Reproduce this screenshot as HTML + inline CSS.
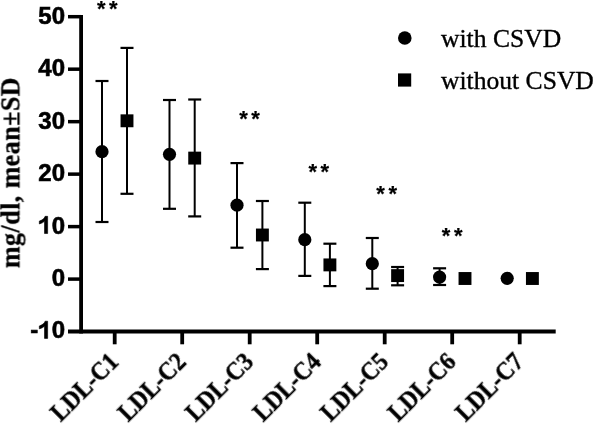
<!DOCTYPE html>
<html><head><meta charset="utf-8"><style>
html,body{margin:0;padding:0;background:#fff;}
svg{display:block;}
text{will-change:transform;}
.yt{font-family:"Liberation Sans",sans-serif;font-weight:bold;font-size:24px;stroke:#000;stroke-width:0.6px;}
.one{stroke:#000;stroke-width:0.6px;}
.st{font-family:"Liberation Sans",sans-serif;font-weight:bold;font-size:22px;stroke:#000;stroke-width:0.2px;}
.lg{font-family:"Liberation Serif",serif;font-size:25.6px;stroke:#000;stroke-width:0.35px;}
.yl{font-family:"Liberation Serif",serif;font-weight:bold;font-size:26px;letter-spacing:0.46px;stroke:#000;stroke-width:0.25px;}
.xl{font-family:"Liberation Serif",serif;font-weight:bold;font-size:23.3px;text-anchor:end;stroke:#000;stroke-width:0.4px;}
</style></head><body>
<svg width="595" height="424" viewBox="0 0 595 424">
<line x1="81.1" y1="14.9" x2="81.1" y2="333.4" stroke="#000" stroke-width="3.8"/>
<line x1="68" y1="331.5" x2="555.7" y2="331.5" stroke="#000" stroke-width="3.8"/>
<line x1="68" y1="16.70" x2="81" y2="16.70" stroke="#000" stroke-width="3.5"/>
<line x1="68" y1="69.18" x2="81" y2="69.18" stroke="#000" stroke-width="3.5"/>
<line x1="68" y1="121.66" x2="81" y2="121.66" stroke="#000" stroke-width="3.5"/>
<line x1="68" y1="174.14" x2="81" y2="174.14" stroke="#000" stroke-width="3.5"/>
<line x1="68" y1="226.62" x2="81" y2="226.62" stroke="#000" stroke-width="3.5"/>
<line x1="68" y1="279.10" x2="81" y2="279.10" stroke="#000" stroke-width="3.5"/>
<line x1="114.70" y1="331" x2="114.70" y2="344.3" stroke="#000" stroke-width="3.8"/>
<line x1="182.20" y1="331" x2="182.20" y2="344.3" stroke="#000" stroke-width="3.8"/>
<line x1="249.70" y1="331" x2="249.70" y2="344.3" stroke="#000" stroke-width="3.8"/>
<line x1="317.20" y1="331" x2="317.20" y2="344.3" stroke="#000" stroke-width="3.8"/>
<line x1="384.70" y1="331" x2="384.70" y2="344.3" stroke="#000" stroke-width="3.8"/>
<line x1="452.20" y1="331" x2="452.20" y2="344.3" stroke="#000" stroke-width="3.8"/>
<line x1="519.70" y1="331" x2="519.70" y2="344.3" stroke="#000" stroke-width="3.8"/>
<text x="51.65" y="23.60" class="yt">0</text>
<text x="38.30" y="23.60" class="yt">5</text>
<text x="51.65" y="76.08" class="yt">0</text>
<text x="38.30" y="76.08" class="yt">4</text>
<text x="51.65" y="128.56" class="yt">0</text>
<text x="38.30" y="128.56" class="yt">3</text>
<text x="51.65" y="181.04" class="yt">0</text>
<text x="38.30" y="181.04" class="yt">2</text>
<text x="51.65" y="233.52" class="yt">0</text>
<path class="one" transform="translate(38.30,233.52) scale(0.01172,-0.01172)" vector-effect="non-scaling-stroke" d="M530 0L796 0L796 1466L580 1466C550 1370 490 1290 400 1220C310 1150 200 1100 88 1060L88 816C270 860 420 940 530 1040Z"/>
<text x="51.65" y="286.00" class="yt">0</text>
<text x="51.65" y="338.40" class="yt">0</text>
<path class="one" transform="translate(38.30,338.40) scale(0.01172,-0.01172)" vector-effect="non-scaling-stroke" d="M530 0L796 0L796 1466L580 1466C550 1370 490 1290 400 1220C310 1150 200 1100 88 1060L88 816C270 860 420 940 530 1040Z"/>
<text x="30.31" y="338.40" class="yt">-</text>
<line x1="102.0" y1="81.0" x2="102.0" y2="222.0" stroke="#000" stroke-width="2.0"/>
<line x1="95.5" y1="81.0" x2="108.5" y2="81.0" stroke="#000" stroke-width="2.2"/>
<line x1="95.5" y1="222.0" x2="108.5" y2="222.0" stroke="#000" stroke-width="2.2"/>
<line x1="127.0" y1="47.9" x2="127.0" y2="193.8" stroke="#000" stroke-width="2.0"/>
<line x1="120.5" y1="47.9" x2="133.5" y2="47.9" stroke="#000" stroke-width="2.2"/>
<line x1="120.5" y1="193.8" x2="133.5" y2="193.8" stroke="#000" stroke-width="2.2"/>
<circle cx="102.0" cy="151.7" r="6.6" fill="#000"/>
<rect x="120.55" y="114.35" width="12.9" height="12.9" fill="#000"/>
<line x1="169.5" y1="100.0" x2="169.5" y2="208.8" stroke="#000" stroke-width="2.0"/>
<line x1="163.0" y1="100.0" x2="176.0" y2="100.0" stroke="#000" stroke-width="2.2"/>
<line x1="163.0" y1="208.8" x2="176.0" y2="208.8" stroke="#000" stroke-width="2.2"/>
<line x1="194.7" y1="99.5" x2="194.7" y2="216.4" stroke="#000" stroke-width="2.0"/>
<line x1="188.2" y1="99.5" x2="201.2" y2="99.5" stroke="#000" stroke-width="2.2"/>
<line x1="188.2" y1="216.4" x2="201.2" y2="216.4" stroke="#000" stroke-width="2.2"/>
<circle cx="169.5" cy="154.3" r="6.6" fill="#000"/>
<rect x="188.25" y="151.65" width="12.9" height="12.9" fill="#000"/>
<line x1="237.0" y1="163.1" x2="237.0" y2="247.7" stroke="#000" stroke-width="2.0"/>
<line x1="230.5" y1="163.1" x2="243.5" y2="163.1" stroke="#000" stroke-width="2.2"/>
<line x1="230.5" y1="247.7" x2="243.5" y2="247.7" stroke="#000" stroke-width="2.2"/>
<line x1="262.4" y1="201.0" x2="262.4" y2="269.1" stroke="#000" stroke-width="2.0"/>
<line x1="255.89999999999998" y1="201.0" x2="268.9" y2="201.0" stroke="#000" stroke-width="2.2"/>
<line x1="255.89999999999998" y1="269.1" x2="268.9" y2="269.1" stroke="#000" stroke-width="2.2"/>
<circle cx="237.0" cy="205.2" r="6.6" fill="#000"/>
<rect x="255.95" y="228.55" width="12.9" height="12.9" fill="#000"/>
<line x1="304.8" y1="202.7" x2="304.8" y2="275.9" stroke="#000" stroke-width="2.0"/>
<line x1="298.3" y1="202.7" x2="311.3" y2="202.7" stroke="#000" stroke-width="2.2"/>
<line x1="298.3" y1="275.9" x2="311.3" y2="275.9" stroke="#000" stroke-width="2.2"/>
<line x1="329.9" y1="243.7" x2="329.9" y2="286.1" stroke="#000" stroke-width="2.0"/>
<line x1="323.4" y1="243.7" x2="336.4" y2="243.7" stroke="#000" stroke-width="2.2"/>
<line x1="323.4" y1="286.1" x2="336.4" y2="286.1" stroke="#000" stroke-width="2.2"/>
<circle cx="304.8" cy="239.7" r="6.6" fill="#000"/>
<rect x="323.45" y="258.45" width="12.9" height="12.9" fill="#000"/>
<line x1="372.3" y1="238.0" x2="372.3" y2="288.7" stroke="#000" stroke-width="2.0"/>
<line x1="365.8" y1="238.0" x2="378.8" y2="238.0" stroke="#000" stroke-width="2.2"/>
<line x1="365.8" y1="288.7" x2="378.8" y2="288.7" stroke="#000" stroke-width="2.2"/>
<line x1="397.6" y1="267.0" x2="397.6" y2="285.3" stroke="#000" stroke-width="2.0"/>
<line x1="391.1" y1="267.0" x2="404.1" y2="267.0" stroke="#000" stroke-width="2.2"/>
<line x1="391.1" y1="285.3" x2="404.1" y2="285.3" stroke="#000" stroke-width="2.2"/>
<circle cx="372.3" cy="263.7" r="6.6" fill="#000"/>
<rect x="391.15000000000003" y="269.15000000000003" width="12.9" height="12.9" fill="#000"/>
<line x1="439.6" y1="268.3" x2="439.6" y2="285.0" stroke="#000" stroke-width="2.0"/>
<line x1="433.1" y1="268.3" x2="446.1" y2="268.3" stroke="#000" stroke-width="2.2"/>
<line x1="433.1" y1="285.0" x2="446.1" y2="285.0" stroke="#000" stroke-width="2.2"/>
<circle cx="439.6" cy="277.05" r="6.6" fill="#000"/>
<rect x="458.55" y="272.05" width="12.9" height="12.9" fill="#000"/>
<circle cx="507.2" cy="278.3" r="6.6" fill="#000"/>
<rect x="525.9499999999999" y="272.05" width="12.9" height="12.9" fill="#000"/>
<text x="96.90" y="15.84" class="st">*</text>
<text x="109.00" y="15.84" class="st">*</text>
<text x="239.30" y="126.34" class="st">*</text>
<text x="251.30" y="126.34" class="st">*</text>
<text x="308.50" y="178.54" class="st">*</text>
<text x="320.60" y="178.54" class="st">*</text>
<text x="376.30" y="201.04" class="st">*</text>
<text x="388.50" y="201.04" class="st">*</text>
<text x="441.80" y="243.14" class="st">*</text>
<text x="454.10" y="243.14" class="st">*</text>
<circle cx="404.8" cy="38" r="6.8" fill="#000"/>
<rect x="398" y="73.4" width="13.2" height="13.2" fill="#000"/>
<text transform="translate(441,46.6) scale(1,1.02)" class="lg">with CSVD</text>
<text transform="translate(441,88.8) scale(1,1.02)" class="lg">without CSVD</text>
<text transform="translate(19.6,268.1) rotate(-90) scale(1,1.05)" x="0" y="0" class="yl">mg/dl, mean±SD</text>
<text transform="translate(120.30,363.5) rotate(-45) scale(1,1.07)" x="0" y="0" class="xl">LDL-C1</text>
<text transform="translate(187.80,363.5) rotate(-45) scale(1,1.07)" x="0" y="0" class="xl">LDL-C2</text>
<text transform="translate(255.30,363.5) rotate(-45) scale(1,1.07)" x="0" y="0" class="xl">LDL-C3</text>
<text transform="translate(322.80,363.5) rotate(-45) scale(1,1.07)" x="0" y="0" class="xl">LDL-C4</text>
<text transform="translate(390.30,363.5) rotate(-45) scale(1,1.07)" x="0" y="0" class="xl">LDL-C5</text>
<text transform="translate(457.80,363.5) rotate(-45) scale(1,1.07)" x="0" y="0" class="xl">LDL-C6</text>
<text transform="translate(525.30,363.5) rotate(-45) scale(1,1.07)" x="0" y="0" class="xl">LDL-C7</text>
</svg>
</body></html>
